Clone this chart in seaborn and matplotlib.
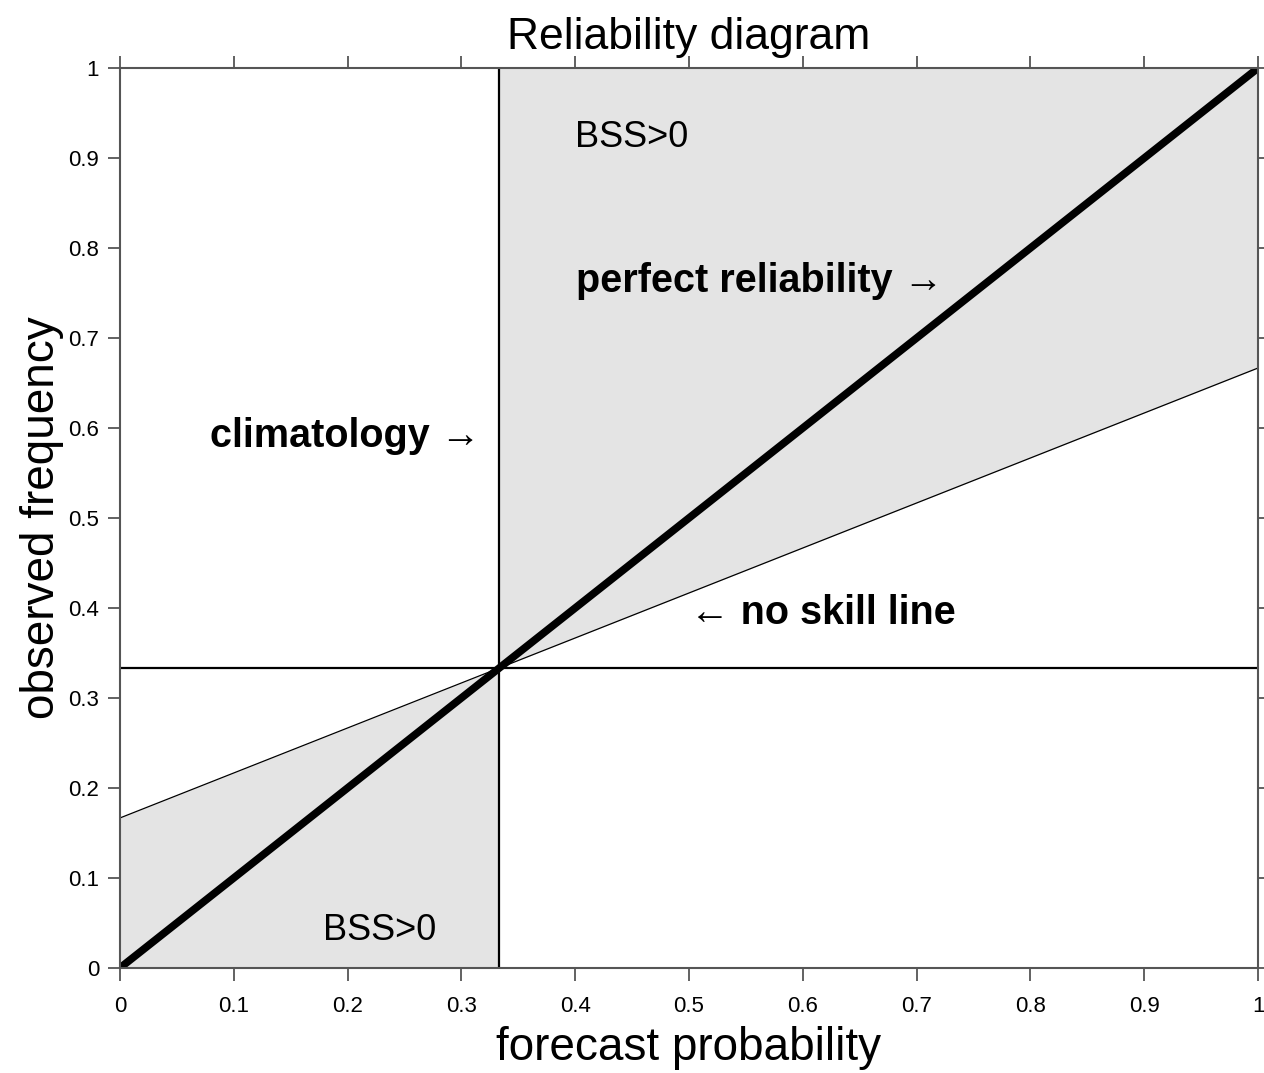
import numpy as np
import pandas as pd
import seaborn as sns
import matplotlib
matplotlib.use("Agg")
import matplotlib.pyplot as plt

# data
clim = 1 / 3
x_edges = [0, clim, 1]
perfect = [0, clim, 1]
no_skill = [1 / 6, clim, 2 / 3]
x_ticks = [0, 0.1, 0.2, 0.3, 0.4, 0.5, 0.6, 0.7, 0.8, 0.9, 1]
tick_labels = ["0", "0.1", "0.2", "0.3", "0.4", "0.5", "0.6", "0.7", "0.8", "0.9", "1"]

sns.set_style("ticks")
plt.rcParams["font.family"] = ["Liberation Sans", "DejaVu Sans"]
plt.rcParams["text.color"] = "black"
plt.rcParams["axes.labelcolor"] = "black"
plt.rcParams["xtick.labelcolor"] = "black"
plt.rcParams["ytick.labelcolor"] = "black"

fig = plt.figure(figsize=(12.64, 10.73), dpi=100)
ax = fig.add_axes([0.0949, 0.0979, 0.9004, 0.8387])

# shaded BSS>0 regions
ax.fill_between(x_edges[:2], [0, 0], no_skill[:2], color="#e4e4e4", lw=0)
ax.fill_between(x_edges[1:], no_skill[1:], [1, 1], color="#e4e4e4", lw=0)

df = pd.DataFrame({"x": x_edges, "perfect": perfect, "no_skill": no_skill})
sns.lineplot(data=df, x="x", y="no_skill", ax=ax, color="black", lw=0.9)
ax.axhline(clim, color="black", lw=1.6)
ax.axvline(clim, color="black", lw=1.6)
sns.lineplot(data=df, x="x", y="perfect", ax=ax, color="black", lw=5.5,
             solid_capstyle="butt")

ax.set_xlim(0, 1)
ax.set_ylim(0, 1)
ax.set_xticks(x_ticks)
ax.set_xticklabels(tick_labels)
ax.set_yticks(x_ticks)
ax.set_yticklabels(tick_labels)
ax.tick_params(axis="both", which="both", direction="out", length=9, width=1.3,
               color="#555555", labelsize=16,
               top=True, right=True, labeltop=False, labelright=False)
ax.tick_params(axis="x", pad=11)
ax.tick_params(axis="y", pad=6)
for s in ax.spines.values():
    s.set_color("#555555")
    s.set_linewidth(1.5)

ax.set_xlabel("forecast probability", fontsize=33, labelpad=7)
ax.set_ylabel("observed frequency", fontsize=33, labelpad=3)
ax.set_title("Reliability diagram", fontsize=32, pad=14)

ax.text(0.401, 0.763, "perfect reliability \u2192", fontsize=28.5, fontweight="bold",
        va="center", ha="left")
ax.text(0.079, 0.591, "climatology \u2192", fontsize=28.5, fontweight="bold",
        va="center", ha="left")
ax.text(0.501, 0.394, "\u2190 no skill line", fontsize=28.5, fontweight="bold",
        va="center", ha="left")
ax.text(0.45, 0.923, "BSS>0", fontsize=26, va="center", ha="center")
ax.text(0.228, 0.042, "BSS>0", fontsize=26, va="center", ha="center")

fig.savefig("out.png", dpi=100)
